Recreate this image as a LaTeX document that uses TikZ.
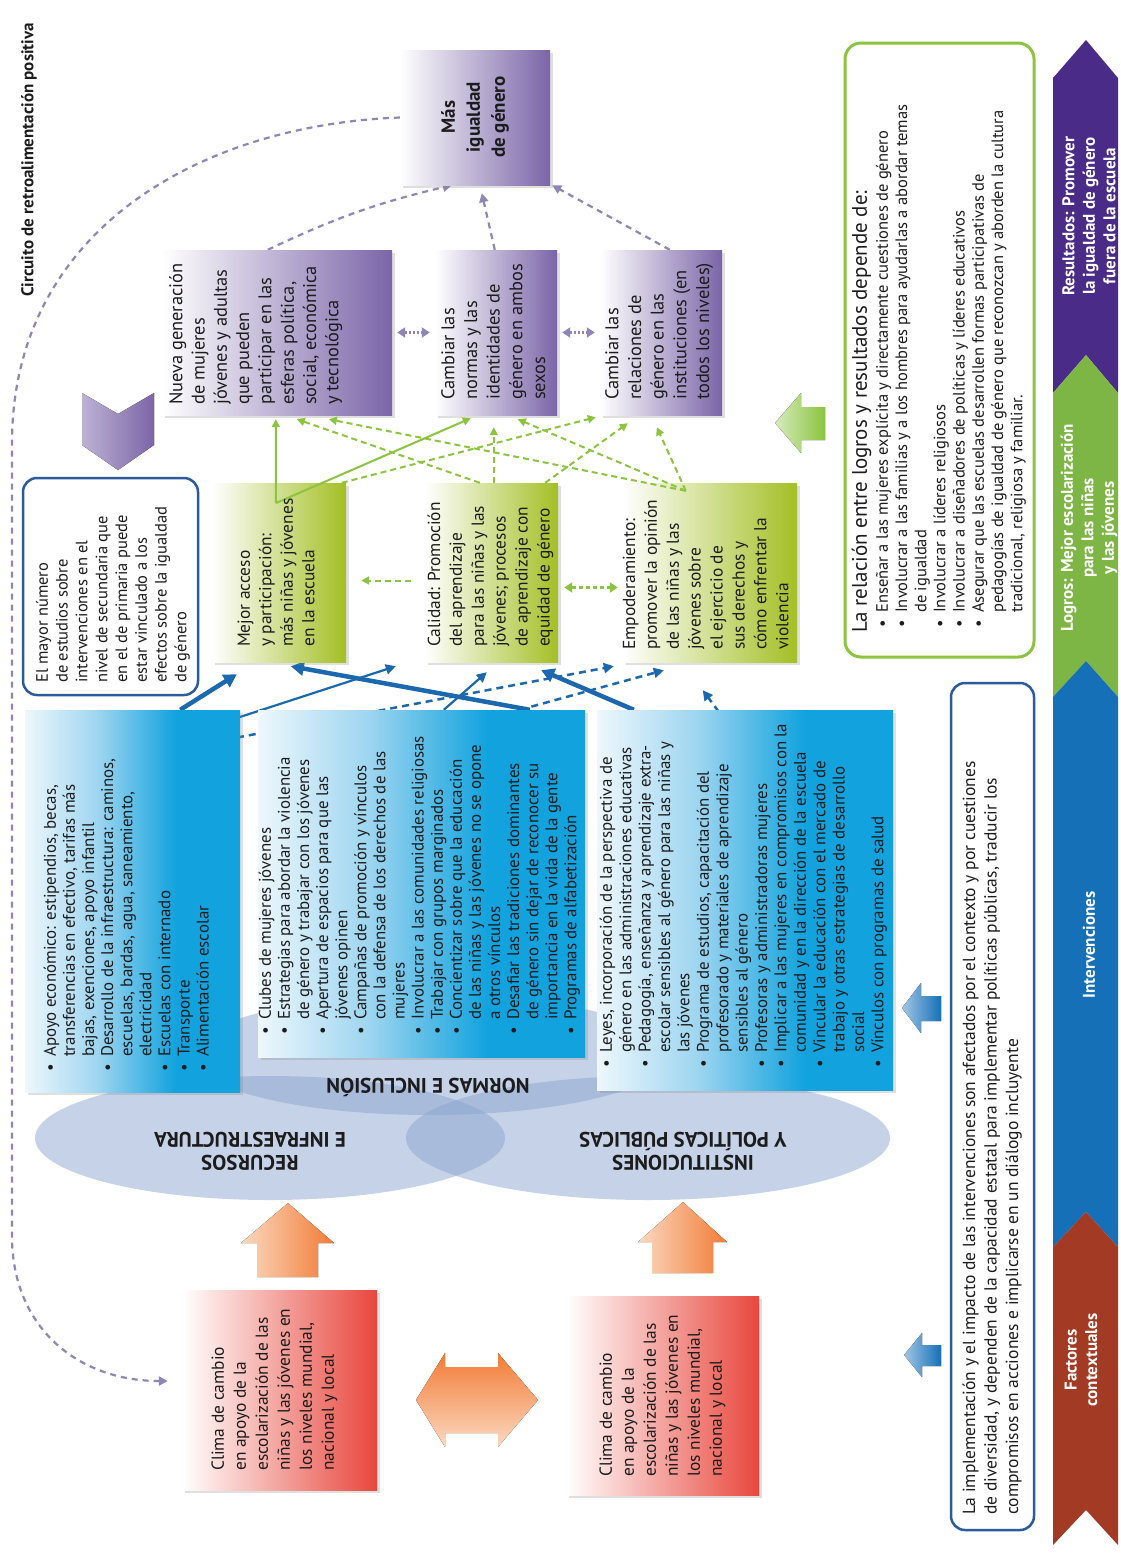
\documentclass[tikz,border=0pt]{standalone}
\usepackage{fontspec}
\setmainfont{PT Sans}
\usetikzlibrary{arrows.meta,shapes.geometric,shadows,fit}
\newcommand\fs[2]{\fontsize{#1}{#2}\selectfont}
\newcommand\bl{\makebox[15pt][l]{•}}
\newcommand\hi{\hspace*{15pt}}
\definecolor{pur}{HTML}{7B65A8}
\definecolor{grn}{HTML}{A4BF25}
\definecolor{grnline}{HTML}{8CC43F}
\definecolor{cyanb}{HTML}{12A3DE}
\definecolor{bluelight}{HTML}{EEF7FC}
\definecolor{bluemid}{HTML}{9DD5F0}
\definecolor{blueline}{HTML}{1B68AE}
\definecolor{navy}{HTML}{2B5B9C}
\definecolor{redb}{HTML}{E8473D}
\definecolor{orng}{HTML}{F27B36}
\definecolor{peach}{HTML}{FBD9C0}
\definecolor{ellc}{RGB}{140,166,208}
\definecolor{fbc}{HTML}{8E86B6}
\definecolor{bandred}{HTML}{A33A23}
\definecolor{bandblue}{HTML}{1570B8}
\definecolor{bandgreen}{HTML}{7EB646}
\definecolor{bandpur}{HTML}{4A2B88}
\definecolor{txtc}{HTML}{1C1C1C}
\pgfdeclarehorizontalshading{blueshade}{100bp}{color(0bp)=(bluelight); color(25bp)=(bluelight); color(42bp)=(bluemid); color(60bp)=(cyanb); color(100bp)=(cyanb)}
\pgfdeclarelayer{bgl}
\pgfdeclarelayer{conn}
\pgfsetlayers{bgl,conn,main}
\begin{document}
\begin{tikzpicture}[x=1pt,y=-1pt,
  every node/.style={inner sep=0pt},
  box/.style={draw=none, inner sep=0pt, drop shadow={shadow xshift=2.5pt, shadow yshift=-2.5pt, opacity=0.25}},
  purbox/.style={box, left color=white, right color=pur},
  grnbox/.style={box, left color=white, right color=grn},
  bluebox/.style={box, shade, shading=blueshade},
  redbox/.style={box, left color=white, right color=redb},
  rbox/.style={draw=navy, line width=2.5pt, rounded corners=14pt, fill=white, inner sep=0pt},
  tx/.style={rotate=90, anchor=north west, align=left, text=txtc},
  band/.style={rotate=90, align=center, text=white, font=\bfseries\fs{17}{20.5}},
  ellab/.style={rotate=180, align=center, text=txtc, font=\bfseries\fs{21}{23}},
  ellnode/.style={ellipse, fill=ellc, fill opacity=0.5, inner sep=0pt},
  gdash/.style={draw=grnline, line width=2pt, dash pattern=on 6pt off 4pt, -{Triangle[length=8pt,width=8pt]}},
  gdbl/.style={draw=grnline, line width=2.5pt, dash pattern=on 4pt off 3pt, {Triangle[length=8pt,width=10pt]}-{Triangle[length=8pt,width=10pt]}},
  gsolid/.style={draw=grnline, line width=2pt, -{Triangle[length=8pt,width=8pt]}},
  bthick/.style={draw=blueline, line width=4.5pt, -{Triangle[length=13pt,width=14pt]}},
  bthin/.style={draw=blueline, line width=2.2pt, -{Triangle[length=10pt,width=10pt]}},
  bdash/.style={draw=blueline, line width=2.5pt, dash pattern=on 7pt off 5pt, -{Triangle[length=10pt,width=10pt]}},
  pdash/.style={draw=fbc, line width=2.2pt, dash pattern=on 6pt off 5pt, -{Triangle[length=9pt,width=9pt]}},
  pdbl/.style={draw=fbc, line width=2.5pt, dash pattern=on 2pt off 2pt, {Triangle[length=8pt,width=10pt]}-{Triangle[length=8pt,width=10pt]}},
]
\begin{pgfonlayer}{bgl}
\fill[white] (0,0) rectangle (1120,1556);
\end{pgfonlayer}
\useasboundingbox (0,0) rectangle (1120,1556);

% ellipses
\node[ellnode, minimum width=480pt, minimum height=120pt] (elN) at (430,1055) {};
\node[ellnode, minimum width=470pt, minimum height=124pt] (elR) at (270,1138) {};
\node[ellnode, minimum width=484pt, minimum height=124pt] (elI) at (648,1138) {};
\node[ellab] (lr) at (250,1151) {RECURSOS\\E INFRAESTRUCTURA};
\node[ellab] (li) at (683,1151) {INSTITUCIONES\\Y POLÍTICAS PÚBLICAS};

% boxes
\node[purbox, fit={(400,50)(550,185)}] (mas) {};
\node[purbox, fit={(162,250)(392,415)}] (nueva) {};
\node[purbox, fit={(435,250)(557,415)}] (normas) {};
\node[purbox, fit={(600,250)(722,415)}] (relac) {};
\node[grnbox, fit={(212,483)(346,662)}] (mejor) {};
\node[grnbox, fit={(425,483)(558,662)}] (calidad) {};
\node[grnbox, fit={(623,483)(797,662)}] (empod) {};
\node[rbox, fit={(23,478)(198,695)}] (mayor) {};
\node[bluebox, fit={(25,710)(240,1092)}] (b1) {};
\node[bluebox, fit={(258,710)(585,1057)}] (b2) {};
\node[bluebox, fit={(597,710)(893,1090)}] (b3) {};
\node[ellab] (ln) at (428,1087) {NORMAS E INCLUSIÓN};
\node[redbox, fit={(182,1290)(377,1490)}] (clima1) {};
\node[redbox, fit={(566,1296)(759,1495)}] (clima2) {};
\node[rbox, draw=grnline, line width=3pt, rounded corners=16pt, fit={(845,43)(1034,657)}] (relbox) {};
\node[rbox, fit={(951,683)(1034,1530)}] (impl) {};

% connectors behind boxes
\begin{pgfonlayer}{conn}
\draw[pdash] ([xshift=106pt]nueva.north west) to[bend left=6] ([xshift=52pt]mas.south west);
\draw[pdash] ([xshift=60pt]normas.north west) -- ([xshift=82pt,yshift=-8pt]mas.south west);
\draw[pdash] ([xshift=70pt]relac.north west) -- ([xshift=2pt]mas.south east);
\draw[bthick] ([xshift=-60pt]b1.north east) -- ([xshift=25pt,yshift=-12pt]mejor.south west);
\draw[bthin] ([xshift=-15pt,yshift=-12pt]b1.north east) -- ([xshift=-29pt,yshift=-4pt]calidad.south west);
\draw[bthick] ([xshift=272pt]b2.north west) -- ([xshift=79pt,yshift=-4pt]mejor.south west);
\draw[bthin] ([xshift=186pt]b2.north west) -- ([xshift=62pt,yshift=-10pt]calidad.south west);
\draw[bdash] ([xshift=-15pt,yshift=-30pt]b1.north east) -- ([xshift=-9pt,yshift=-4pt]empod.south west);
\draw[bdash] ([xshift=262pt]b2.north west) -- ([xshift=41pt,yshift=-8pt]empod.south west);
\draw[bthick] ([xshift=37pt]b3.north west) -- ([xshift=-17pt,yshift=-8pt]calidad.south east);
\draw[bdash] ([xshift=122pt,yshift=-2pt]b3.north west) -- ([xshift=80pt,yshift=-28pt]empod.south west);
\end{pgfonlayer}

% feedback loop
\draw[pdash] (mas.west) .. controls (200,125) and (14,230) .. (12,440) -- (12,1240) .. controls (14,1330) and (80,1381) .. ([xshift=-14pt,yshift=9pt]clima1.west);
\node[rotate=90, font=\bfseries\fs{17}{20}, text=txtc] (circ) at (29,160) {Circuito de retroalimentación positiva};

% purple double arrows
\draw[pdbl] ([xshift=5pt]nueva.east) -- ([xshift=-5pt]normas.west);
\draw[pdbl] ([xshift=5pt]normas.east) -- ([xshift=-5pt]relac.west);

% green connectors
\coordinate (gs) at (276,503);
\coordinate (ge) at ([xshift=63pt,yshift=-8pt]empod.north west);
\draw[gsolid] (gs) -- ([xshift=114pt,yshift=-4pt]nueva.south west);
\draw[gsolid] (gs) -- ([xshift=36pt,yshift=-3pt]normas.south west);
\draw[gdash] ([xshift=55pt]calidad.north west) -- ([xshift=135pt,yshift=-4pt]nueva.south west);
\draw[gdash] (ge) -- ([xshift=167pt,yshift=-4pt]nueva.south west);
\draw[gdash] ([xshift=69pt]calidad.north west) -- ([xshift=59pt,yshift=-12pt]normas.south west);
\draw[gdash] (ge) -- ([xshift=83pt,yshift=-4pt]normas.south west);
\draw[gdash] ([xshift=130pt]mejor.north west) -- ([xshift=-4pt,yshift=-2pt]relac.south west);
\draw[gdash] ([xshift=-13pt]calidad.north east) -- ([xshift=28pt,yshift=-8pt]relac.south west);
\draw[gdash] (ge) -- ([xshift=57pt,yshift=-12pt]relac.south west);
\draw[gdbl] ([xshift=6pt,yshift=-15pt]calidad.east) -- ([xshift=-5pt,yshift=-15pt]empod.west);
\draw[gdash] ([xshift=-14pt,yshift=-8pt]calidad.west) -- ([xshift=15pt,yshift=-8pt]mejor.east);

% block arrows
\fill[left color=white!50!pur, right color=pur] (82,393) -- (118,414) -- (154,393) -- (154,445) -- (118,470) -- (82,445) -- cycle;
\fill[left color=grnline!35, right color=grnline] (775,423) -- (801,393) -- (801,407) -- (825,407) -- (825,440) -- (801,440) -- (801,453) -- cycle;
\fill[left color=bandblue!40, right color=bandblue] (902,1008) -- (921,983) -- (921,996) -- (941,996) -- (941,1021) -- (921,1021) -- (921,1033) -- cycle;
\fill[left color=bandblue!40, right color=bandblue] (904,1355) -- (922,1333) -- (922,1345) -- (941,1345) -- (941,1366) -- (922,1366) -- (922,1377) -- cycle;
\fill[left color=peach, right color=orng] (288,1203) -- (334,1243) -- (318,1243) -- (318,1277) -- (257,1277) -- (257,1243) -- (241,1243) -- cycle;
\fill[left color=peach, right color=orng] (683,1202) -- (727,1242) -- (713,1242) -- (713,1273) -- (652,1273) -- (652,1242) -- (638,1242) -- cycle;
\fill[top color=orng, bottom color=peach] (416,1400) -- (445,1353) -- (445,1367) -- (498,1367) -- (498,1353) -- (538,1400) -- (498,1447) -- (498,1433) -- (445,1433) -- (445,1447) -- cycle;

% bands
\fill[bandpur] (1053,78) -- (1086,40) -- (1118,78) -- (1118,393) -- (1086,355) -- (1053,393) -- cycle;
\fill[bandgreen] (1053,393) -- (1086,355) -- (1118,393) -- (1118,697) -- (1086,661) -- (1053,697) -- cycle;
\fill[bandblue] (1053,697) -- (1086,661) -- (1118,697) -- (1118,1247) -- (1086,1212) -- (1053,1247) -- cycle;
\fill[bandred] (1053,1247) -- (1086,1212) -- (1118,1247) -- (1118,1545) -- (1086,1510) -- (1053,1545) -- cycle;
\node[band] (tres) at (1089,216) {Resultados: Promover\\la igualdad de género\\fuera de la escuela};
\node[band] (tlog) at (1089,528) {Logros: Mejor escolarización\\para las niñas\\y las jóvenes};
\node[band] (tint) at (1089,945) {Intervenciones};
\node[band] (tfac) at (1081,1360) {Factores\\contextuales};

% texts
\node[rotate=90, align=center, font=\bfseries\fs{19}{25}, text=txtc] (tmas) at (475,117) {Más\\igualdad\\de género};
\node[tx, font=\fs{18.4}{22.3}] (tnueva) at (168.8,405) {Nueva generación\\de mujeres\\jóvenes y adultas\\que pueden\\participar en las\\esferas política,\\social, económica\\y tecnológica};
\node[tx, font=\fs{18.4}{22.7}] (tnormas) at (441,400) {Cambiar las\\normas y las\\identidades de\\género en ambos\\sexos};
\node[tx, font=\fs{18.4}{22.7}] (trelac) at (605,400) {Cambiar las\\relaciones de\\género en las\\instituciones (en\\todos los niveles)};
\node[tx, font=\fs{17.4}{21.5}] (tmejor) at (237.3,647) {Mejor acceso\\y participación:\\más niñas y jóvenes\\en la escuela};
\node[tx, font=\fs{17.4}{21.9}] (tcal) at (427.3,647) {Calidad: Promoción\\del aprendizaje\\para las niñas y las\\jóvenes; procesos\\de aprendizaje con\\equidad de género};
\node[tx, font=\fs{17.4}{21.9}] (temp) at (622.5,650) {Empoderamiento:\\promover la opinión\\de las niñas y las\\jóvenes sobre\\el ejercicio de\\sus derechos y\\cómo enfrentar la\\violencia};
\node[tx, font=\fs{16.5}{19.8}] (tmayor) at (35.8,683) {El mayor número\\de estudios sobre\\intervenciones en el\\nivel de secundaria que\\en el de primaria puede\\estar vinculado a los\\efectos sobre la igualdad\\de género};
\node[tx, font=\fs{16.9}{19.1}] (tb1) at (43.5,1072) {\bl Apoyo económico: estipendios, becas,\\\hi transferencias en efectivo, tarifas más\\\hi bajas, exenciones, apoyo infantil\\\bl Desarrollo de la infraestructura: caminos,\\\hi escuelas, bardas, agua, saneamiento,\\\hi electricidad\\\bl Escuelas con internado\\\bl Transporte\\\bl Alimentación escolar};
\node[tx, font=\fs{16.9}{19.1}] (tb2) at (258.5,1035) {\bl Clubes de mujeres jóvenes\\\bl Estrategias para abordar la violencia\\\hi de género y trabajar con los jóvenes\\\bl Apertura de espacios para que las\\\hi jóvenes opinen\\\bl Campañas de promoción y vínculos\\\hi con la defensa de los derechos de las\\\hi mujeres\\\bl Involucrar a las comunidades religiosas\\\bl Trabajar con grupos marginados\\\bl Concientizar sobre que la educación\\\hi de las niñas y las jóvenes no se opone\\\hi a otros vínculos\\\bl Desafiar las tradiciones dominantes\\\hi de género sin dejar de reconocer su\\\hi importancia en la vida de la gente\\\bl Programas de alfabetización};
\node[tx, font=\fs{16.9}{19.4}] (tb3) at (599.5,1068) {\bl Leyes, incorporación de la perspectiva de\\\hi género en las administraciones educativas\\\bl Pedagogía, enseñanza y aprendizaje extra-\\\hi escolar sensibles al género para las niñas y\\\hi las jóvenes\\\bl Programa de estudios, capacitación del\\\hi profesorado y materiales de aprendizaje\\\hi sensibles al género\\\bl Profesoras y administradoras mujeres\\\bl Implicar a las mujeres en compromisos con la\\\hi comunidad y en la dirección de la escuela\\\bl Vincular la educación con el mercado de\\\hi trabajo y otras estrategias de desarrollo\\\hi social\\\bl Vínculos con programas de salud};
\node[tx, font=\fs{17.4}{22}] (tclima1) at (211.3,1471) {Clima de cambio\\en apoyo de la\\escolarización de las\\niñas y las jóvenes en\\los niveles mundial,\\nacional y local};
\node[tx, font=\fs{17.4}{22}] (tclima2) at (599.3,1477) {Clima de cambio\\en apoyo de la\\escolarización de las\\niñas y las jóvenes en\\los niveles mundial,\\nacional y local};
\node[tx, font=\fs{21}{22}] (trelh) at (851.5,633) {La relación entre logros y resultados depende de:};
\node[tx, font=\fs{16.5}{19.2}] (trelb) at (875.8,628) {\bl Enseñar a las mujeres explícita y directamente cuestiones de género\\\bl Involucrar a las familias y a los hombres para ayudarlas a abordar temas\\\hi de igualdad\\\bl Involucrar a líderes religiosos\\\bl Involucrar a diseñadores de políticas y líderes educativos\\\bl Asegurar que las escuelas desarrollen formas participativas de\\\hi pedagogías de igualdad de género que reconozcan y aborden la cultura\\\hi tradicional, religiosa y familiar.};
\node[tx, font=\fs{17.5}{21.5}] (timpl) at (962.3,1515) {La implementación y el impacto de las intervenciones son afectados por el contexto y por cuestiones\\de diversidad, y dependen de la capacidad estatal para implementar políticas públicas, traducir los\\compromisos en acciones e implicarse en un diálogo incluyente};
\end{tikzpicture}
\end{document}
